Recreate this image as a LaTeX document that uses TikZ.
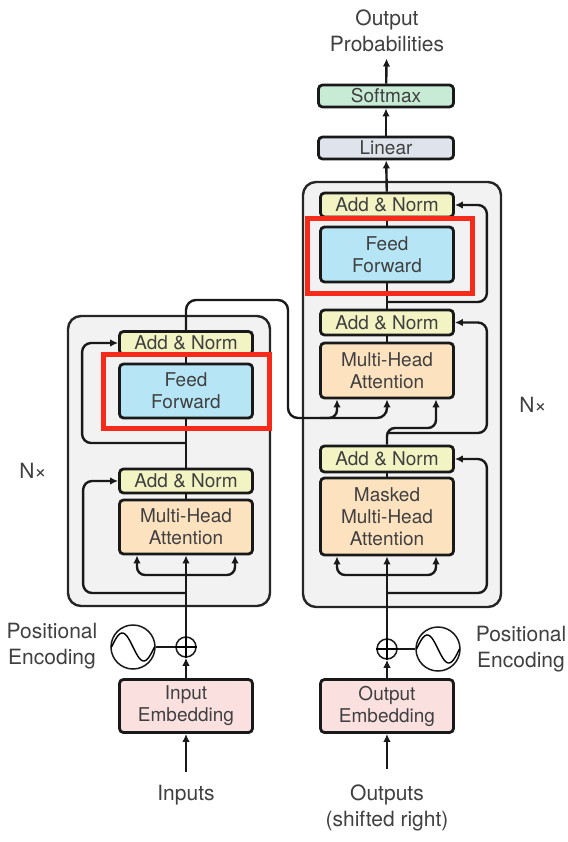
\documentclass[tikz,border=0pt]{standalone}
\usepackage{fontspec}
\setmainfont{TeX Gyre Heros}
\usepackage{xcolor}
\usepackage{tikz}
\usetikzlibrary{arrows.meta,positioning,calc}
\definecolor{normyellow}{HTML}{F3F4C3}
\definecolor{ffblue}{HTML}{B6E5F5}
\definecolor{attnpeach}{HTML}{FDE2C0}
\definecolor{embpink}{HTML}{FBE0E0}
\definecolor{smgreen}{HTML}{C7EBD5}
\definecolor{lingray}{HTML}{DFE3EC}
\definecolor{stackgray}{HTML}{F2F2F3}
\definecolor{hlred}{HTML}{F52A1A}
\definecolor{labelgray}{HTML}{404040}

\begin{document}
\begin{tikzpicture}[
    x=1pt, y=-1pt,
    block/.style={rectangle, draw=black!90, line width=2.8pt, rounded corners=4pt, minimum width=133pt, inner sep=0pt, align=center, text=labelgray, font=\fontsize{19}{22}\selectfont},
    stack/.style={rectangle, draw=black!85, line width=2.4pt, rounded corners=13pt, fill=stackgray},
    highlight/.style={rectangle, draw=hlred, line width=5pt},
    caption/.style={align=center, text=labelgray, font=\fontsize{21}{26}\selectfont},
    wire/.style={line width=2.4pt, draw=black!90},
    arrow/.style={wire, -{Latex[length=8pt, width=7.5pt]}},
    circ/.style={circle, draw=black!90, line width=1.5pt, inner sep=0pt, fill=white}
]
    \fill[white] (0,0) rectangle (567,842);
    \useasboundingbox (0,0) rectangle (567,842);

    % Encoder (left column)
    \node[stack, minimum width=202pt, minimum height=290pt] (encstack) at (169,461) {};
    \node[block, fill=normyellow, minimum height=23pt] (encAN2) at (186,343) {Add \& Norm};
    \node[block, fill=ffblue, minimum height=54pt] (encFF) at (186,391) {Feed\\Forward};
    \node[block, fill=normyellow, minimum height=24pt] (encAN1) at (186,481) {Add \& Norm};
    \node[block, fill=attnpeach, minimum height=54pt] (encMHA) at (186,527) {Multi-Head\\Attention};
    \node[block, fill=embpink, minimum height=53pt] (encEmb) at (186,706) {Input\\Embedding};
    \node[circ, minimum size=20pt] (encAdd) at (186,647) {};
    \node[circ, minimum size=44pt] (encPE) at (133,647) {};
    \node[caption] (encPEtext) at (52,646) {Positional\\Encoding};
    \node[caption] (inputs) at (186,795) {Inputs};
    \node[caption] (encN) at (33,471) {N×};

    % Decoder (right column)
    \node[stack, minimum width=198pt, minimum height=425pt] (decstack) at (402,394.5) {};
    \node[block, fill=normyellow, minimum height=24pt] (decAN3) at (387,205) {Add \& Norm};
    \node[block, fill=ffblue, minimum height=55pt] (decFF) at (387,254.5) {Feed\\Forward};
    \node[block, fill=normyellow, minimum height=25pt] (decAN2) at (387,322.5) {Add \& Norm};
    \node[block, fill=attnpeach, minimum height=55pt] (decMHA) at (387,370.5) {Multi-Head\\Attention};
    \node[block, fill=normyellow, minimum height=26pt] (decAN1) at (387,459) {Add \& Norm};
    \node[block, fill=attnpeach, minimum height=77pt] (decMMHA) at (387,516.5) {Masked\\Multi-Head\\Attention};
    \node[block, fill=embpink, minimum height=53pt] (decEmb) at (387,706) {Output\\Embedding};
    \node[circ, minimum size=20pt] (decAdd) at (387,649) {};
    \node[circ, minimum size=44pt] (decPE) at (438,649) {};
    \node[caption] (decPEtext) at (521,649) {Positional\\Encoding};
    \node[caption] (outputs) at (387,808) {Outputs\\(shifted right)};
    \node[caption] (decN) at (533,405) {N×};

    % Output head
    \node[block, fill=lingray, minimum width=135pt, minimum height=22pt] (linear) at (386,148) {Linear};
    \node[block, fill=smgreen, minimum width=135pt, minimum height=22pt] (softmax) at (386,96) {Softmax};
    \node[caption] (probs) at (387,31) {Output\\Probabilities};

    % Positional encoding symbols
    \draw[wire] (encPE) -- (encAdd);
    \draw[wire] (decPE) -- (decAdd);
    \draw[line width=1.4pt, shift={(encPE.center)}] plot[domain=-1:1, samples=40, smooth] ({21.5*\x}, {14*sin(180*\x)});
    \draw[line width=1.4pt, shift={(decPE.center)}] plot[domain=-1:1, samples=40, smooth] ({21.5*\x}, {14*sin(180*\x)});
    \draw[line width=1.4pt] (encAdd.north) -- (encAdd.south) (encAdd.west) -- (encAdd.east);
    \draw[line width=1.4pt] (decAdd.north) -- (decAdd.south) (decAdd.west) -- (decAdd.east);

    % Encoder connections
    \coordinate (encQKV) at (186,575);
    \coordinate (encres1) at (186,593);
    \coordinate (encres2) at (186,443);
    \draw[arrow, shorten <=10pt] (inputs) -- (encEmb);
    \draw[arrow] (encEmb) -- (encAdd);
    \draw[arrow] (encAdd) -- (encMHA);
    \draw[arrow, rounded corners=8pt] (encQKV) -| ([xshift=-49pt]encMHA.south);
    \draw[arrow, rounded corners=8pt] (encQKV) -| ([xshift=49pt]encMHA.south);
    \draw[arrow, rounded corners=9pt] (encres1) -| ([xshift=-35pt]encAN1.west) -- (encAN1.west);
    \draw[wire] (encMHA) -- (encAN1);
    \draw[wire] (encAN1) -- (encFF);
    \draw[arrow, rounded corners=9pt] (encres2) -| ([xshift=-36pt]encAN2.west) -- (encAN2.west);
    \draw[wire] (encFF) -- (encAN2);

    % Encoder output into decoder attention
    \coordinate (encmem) at (320,418);
    \draw[arrow, rounded corners=10pt] (encAN2.north) |- (288,300) |- (350,418) -| (decMHA.south);
    \draw[arrow, rounded corners=8pt] (encmem) -| ([xshift=-50pt]decMHA.south);

    % Decoder connections
    \coordinate (decQKV) at (387,575);
    \coordinate (decres1) at (387,593);
    \coordinate (decres2) at (387,433);
    \coordinate (decres3) at (387,302);
    \draw[arrow, shorten <=12pt] (outputs) -- (decEmb);
    \draw[arrow] (decEmb) -- (decAdd);
    \draw[arrow] (decAdd) -- (decMMHA);
    \draw[arrow, rounded corners=8pt] (decQKV) -| ([xshift=-50pt]decMMHA.south);
    \draw[arrow, rounded corners=8pt] (decQKV) -| ([xshift=49pt]decMMHA.south);
    \draw[arrow, rounded corners=9pt] (decres1) -| ([xshift=32pt]decAN1.east) -- (decAN1.east);
    \draw[wire] (decMMHA) -- (decAN1);
    \draw[arrow, rounded corners=8pt] (decAN1.north) -- (387,428) -| ([xshift=49pt]decMHA.south);
    \draw[arrow, rounded corners=9pt] (decres2) -| ([xshift=32pt]decAN2.east) -- (decAN2.east);
    \draw[wire] (decMHA) -- (decAN2);
    \draw[wire] (decAN2) -- (decFF);
    \draw[arrow, rounded corners=9pt] (decres3) -| ([xshift=32pt]decAN3.east) -- (decAN3.east);
    \draw[wire] (decFF) -- (decAN3);
    \draw[arrow] (decAN3) -- (linear);
    \draw[arrow] (linear) -- (softmax);
    \draw[arrow, shorten >=3pt] (softmax) -- (probs);

    % Highlight boxes
    \node[highlight, minimum width=166pt, minimum height=74pt] (encHL) at (186,391) {};
    \node[highlight, minimum width=165pt, minimum height=74pt] (decHL) at (389.5,256) {};
\end{tikzpicture}
\end{document}
